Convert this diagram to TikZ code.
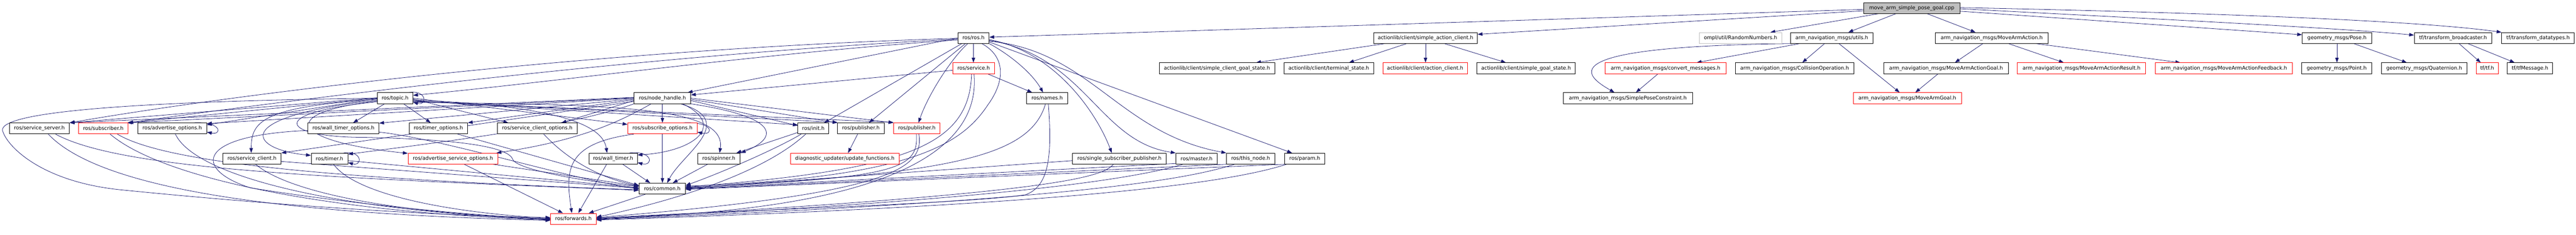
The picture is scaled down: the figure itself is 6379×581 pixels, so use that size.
\documentclass[tikz,border=0pt]{standalone}
\usepackage{fontspec}
\setmainfont{DejaVu Sans}
\usetikzlibrary{arrows.meta,calc}
\definecolor{edgec}{RGB}{25,25,112}
\definecolor{topfill}{RGB}{191,191,191}
\definecolor{lgray}{RGB}{191,191,191}
\pgfdeclarelayer{edgelayer}
\pgfsetlayers{edgelayer,main}
\begin{document}
\begin{tikzpicture}[x=1pt,y=-1pt,
  box/.style={draw=black, line width=1.1pt, rectangle, fill=white, minimum height=27pt, inner sep=0pt, font=\fontsize{12.6}{15}\selectfont, text=black},
  rbox/.style={box, draw=red},
  gbox/.style={box, draw=lgray},
  tbox/.style={box, fill=topfill},
  dep/.style={draw=edgec, line width=1pt, -{Triangle[length=12pt,width=8.5pt]}}]
\useasboundingbox (0,0) rectangle (6379,581);
% row 0
\node[tbox, minimum width=239pt] (top) at (4734,19.8) {move\_arm\_simple\_pose\_goal.cpp};
% row 1
\node[box, minimum width=77.5pt] (rosh) at (2410.5,94) {ros/ros.h};
\node[box, minimum width=257pt] (sac) at (3530,94) {actionlib/client/simple\_action\_client.h};
\node[gbox, minimum width=204pt] (ompl) at (4310,94) {ompl/util/RandomNumbers.h};
\node[box, minimum width=204pt] (utils) at (4536,94) {arm\_navigation\_msgs/utils.h};
\node[box, minimum width=280pt] (maa) at (4932,94) {arm\_navigation\_msgs/MoveArmAction.h};
\node[box, minimum width=172pt] (pose) at (5787,94) {geometry\_msgs/Pose.h};
\node[box, minimum width=192pt] (tfb) at (6074.5,94) {tf/transform\_broadcaster.h};
\node[box, minimum width=180pt] (tfd) at (6285,94) {tf/transform\_datatypes.h};
% row 2
\node[rbox, minimum width=104pt] (service) at (2411,169) {ros/service.h};
\node[box, minimum width=286pt] (scgs) at (3013.5,169) {actionlib/client/simple\_client\_goal\_state.h};
\node[box, minimum width=222pt] (term) at (3290.5,169) {actionlib/client/terminal\_state.h};
\node[rbox, minimum width=209pt] (ac) at (3529,169) {actionlib/client/action\_client.h};
\node[box, minimum width=244pt] (sgs) at (3779,169) {actionlib/client/simple\_goal\_state.h};
\node[rbox, minimum width=300pt] (conv) at (4124.5,169) {arm\_navigation\_msgs/convert\_messages.h};
\node[box, minimum width=294pt] (coll) at (4444,169) {arm\_navigation\_msgs/CollisionOperation.h};
\node[box, minimum width=308pt] (maag) at (4819,169) {arm\_navigation\_msgs/MoveArmActionGoal.h};
\node[rbox, minimum width=318pt] (maar) at (5154.5,169) {arm\_navigation\_msgs/MoveArmActionResult.h};
\node[rbox, minimum width=340pt] (maaf) at (5507,169) {arm\_navigation\_msgs/MoveArmActionFeedback.h};
\node[box, minimum width=174pt] (point) at (5786.4,169) {geometry\_msgs/Point.h};
\node[box, minimum width=212pt] (quat) at (6003,169) {geometry\_msgs/Quaternion.h};
\node[rbox, minimum width=55pt] (tftf) at (6159,169) {tf/tf.h};
\node[box, minimum width=112pt] (tfm) at (6265,169) {tf/tfMessage.h};
% row 3
\node[box, minimum width=88pt] (topic) at (978.4,243) {ros/topic.h};
\node[box, minimum width=140pt] (nh) at (1640.4,243) {ros/node\_handle.h};
\node[box, minimum width=101pt] (names) at (2593,243) {ros/names.h};
\node[box, minimum width=320pt] (spc) at (4031,243) {arm\_navigation\_msgs/SimplePoseConstraint.h};
\node[rbox, minimum width=268pt] (mag) at (4723,243) {arm\_navigation\_msgs/MoveArmGoal.h};
% row 4
\node[box, minimum width=149pt] (ss) at (97.5,318) {ros/service\_server.h};
\node[rbox, minimum width=123pt] (sub) at (255.7,318) {ros/subscriber.h};
\node[box, minimum width=171pt] (ao) at (426.4,318) {ros/advertise\_options.h};
\node[box, minimum width=176pt] (wto) at (850.4,318) {ros/wall\_timer\_options.h};
\node[box, minimum width=145pt] (tmo) at (1085.5,318) {ros/timer\_options.h};
\node[box, minimum width=197.5pt] (sco) at (1330.5,318) {ros/service\_client\_options.h};
\node[rbox, minimum width=172pt] (so) at (1640.4,318) {ros/subscribe\_options.h};
\node[box, minimum width=76pt] (init) at (2014,318) {ros/init.h};
\node[box, minimum width=115pt] (pubb) at (2131.8,318) {ros/publisher.h};
\node[rbox, minimum width=115pt] (pubr) at (2270.4,318) {ros/publisher.h};
% row 5
\node[box, minimum width=144pt] (sc) at (624,392.7) {ros/service\_client.h};
\node[box, minimum width=91pt] (timer) at (816,392.7) {ros/timer.h};
\node[rbox, minimum width=222.5pt] (aso) at (1121.6,392.7) {ros/advertise\_service\_options.h};
\node[box, minimum width=120pt] (wt) at (1518.2,392.7) {ros/wall\_timer.h};
\node[box, minimum width=104pt] (spinner) at (1780,392.7) {ros/spinner.h};
\node[rbox, minimum width=270pt] (diag) at (2092,392.7) {diagnostic\_updater/update\_functions.h};
\node[box, minimum width=232pt] (ssp) at (2772,392.7) {ros/single\_subscriber\_publisher.h};
\node[box, minimum width=102.5pt] (master) at (2963,392.7) {ros/master.h};
\node[box, minimum width=120pt] (thisnode) at (3097,392.7) {ros/this\_node.h};
\node[box, minimum width=100pt] (param) at (3231,392.7) {ros/param.h};
% row 6, 7
\node[box, minimum width=115pt] (common) at (1640,467) {ros/common.h};
\node[rbox, minimum width=113pt] (fwd) at (1420,541.6) {ros/forwards.h};

\begin{pgfonlayer}{edgelayer}
% ---- edges from the top file
\draw[dep] ([yshift=-3.5pt]top.west) -- ([yshift=2pt]rosh.east);
\draw[dep] ([yshift=-7pt]top.west) -- ([yshift=9pt]sac.east);
\draw[dep] ([xshift=-82pt]top.south) -- ([xshift=74pt]ompl.north);
\draw[dep] ([xshift=-39pt]top.south) -- ([xshift=41pt]utils.north);
\draw[dep] ([xshift=38pt]top.south) -- ([xshift=-40pt]maa.north);
\draw[dep] ([yshift=-8pt]top.east) -- ([yshift=8pt]pose.west);
\draw[dep] ([yshift=-2pt]top.east) .. controls (5400,50) and (5800,70) .. ([yshift=7pt]tfb.west);
\draw[dep] ([yshift=1pt]top.east) .. controls (5500,32) and (6000,52) .. (tfd.north west);
% ---- actionlib
\draw[dep] ([xshift=-101pt]sac.south) -- ([xshift=97pt]scgs.north);
\draw[dep] ([xshift=-47pt]sac.south) -- ([xshift=50pt]term.north);
\draw[dep] (sac.south) -- (sac.south |- ac.north);
\draw[dep] ([xshift=47pt]sac.south) -- ([xshift=-50pt]sgs.north);
% ---- arm_navigation_msgs
\draw[dep] (utils.south west) .. controls (3820,115) and (3930,190) .. ([xshift=-33pt]spc.north);
\draw[dep] ([xshift=-80pt]utils.south) -- ([xshift=77pt]conv.north);
\draw[dep] ([xshift=-18pt]utils.south) -- ([xshift=19pt]coll.north);
\draw[dep] ([xshift=18pt]utils.south) -- ([xshift=-19pt]mag.north);
\draw[dep] ([xshift=-19pt]conv.south) -- ([xshift=20pt]spc.north);
\draw[dep] ([xshift=-22pt]maa.south) -- ([xshift=22pt]maag.north);
\draw[dep] ([xshift=42pt]maa.south) -- ([xshift=-44pt]maar.north);
\draw[dep] ([xshift=110pt]maa.south) -- ([xshift=-108pt]maaf.north);
\draw[dep] ([xshift=-20pt]maag.south) -- ([xshift=20pt]mag.north);
% ---- geometry, tf
\draw[dep] (pose.south) -- (pose.south |- point.north);
\draw[dep] ([xshift=42pt]pose.south) -- ([xshift=-43pt]quat.north);
\draw[dep] ([xshift=15pt]tfb.south) -- ([xshift=-16pt]tftf.north);
\draw[dep] ([xshift=37pt]tfb.south) -- ([xshift=-38pt]tfm.north);
% ---- ros/ros.h
\draw[dep] (rosh.south) -- (rosh.south |- service.north);
\draw[dep] (rosh.south east) .. controls (2500,135) and (2555,180) .. ([xshift=-10pt]names.north);
\draw[dep] ([xshift=35pt]service.south) -- ([xshift=-37pt]names.north);
\draw[dep] ([yshift=-5pt]service.west) -- ([yshift=8pt]nh.east);
\draw[dep] (rosh.west) -- ([xshift=-8pt]nh.north east);
\draw[dep] ([yshift=-1pt]rosh.west) .. controls (1500,120) and (600,230) .. (ss.north east);
\draw[dep] ([yshift=-3pt]rosh.west) .. controls (1600,135) and (700,250) .. (sub.north east);
\draw[dep] ([yshift=-5pt]rosh.west) .. controls (1900,130) and (1400,200) .. ([yshift=7pt]topic.east);
\draw[dep] ([xshift=-29pt]rosh.south) -- ([xshift=27pt]init.north);
\draw[dep] ([xshift=-20pt]rosh.south) -- ([xshift=20pt]pubb.north);
\draw[dep] ([xshift=-14pt]rosh.south) .. controls (2360,140) and (2300,230) .. ([xshift=4pt]pubr.north);
\draw[dep] ([yshift=-4pt]rosh.east) .. controls (2620,130) and (2720,290) .. ([xshift=-19pt]ssp.north);
\draw[dep] ([yshift=-6pt]rosh.east) .. controls (2690,140) and (2720,350) .. (master.north west);
\draw[dep] ([yshift=-8pt]rosh.east) .. controls (2700,125) and (2770,330) .. (thisnode.north west);
\draw[dep] ([yshift=-10pt]rosh.east) -- ([xshift=19pt]param.north west);
\draw[dep] ([xshift=21pt]rosh.south) .. controls (2490,140) and (2490,200) .. (2446,260) .. controls (2380,360) and (2250,440) .. ([yshift=6pt]common.east);
% ---- service, names, publisher
\draw[dep] ([xshift=-5pt]service.south) .. controls (2400,360) and (2250,420) .. ([yshift=4pt]common.east);
\draw[dep] ([xshift=1pt]service.south) .. controls (2425,330) and (2300,520) .. ([yshift=2pt]fwd.east);
\draw[dep] ([xshift=-4pt]names.south) .. controls (2550,390) and (2350,430) .. ([yshift=2pt]common.east);
\draw[dep] ([xshift=3pt]names.south) .. controls (2605,380) and (2600,460) .. (2540,482) .. controls (2400,505) and (1700,525) .. ([yshift=1pt]fwd.east);
\draw[dep] ([xshift=-1pt]pubr.south) .. controls (2275,420) and (2220,440) .. ([yshift=3pt]common.east);
\draw[dep] ([xshift=5pt]pubr.south) .. controls (2290,420) and (2200,480) .. ([yshift=3pt]fwd.east);
\draw[dep] ([xshift=-8pt]pubb.south) -- ([xshift=8pt]diag.north);
% ---- ssp, master, this_node, param
\draw[dep] ([yshift=-5pt]ssp.west) -- ([yshift=1pt]common.east);
\draw[dep] ([xshift=-15pt]ssp.south) .. controls (2730,440) and (2600,480) .. (fwd.east);
\draw[dep] ([yshift=2pt]master.south west) -- (common.east);
\draw[dep] ([xshift=-34pt]master.south) .. controls (2850,430) and (2600,490) .. ([yshift=-1pt]fwd.east);
\draw[dep] (thisnode.south west) -- ([yshift=-1pt]common.east);
\draw[dep] ([xshift=-40pt]thisnode.south) .. controls (2950,440) and (2700,495) .. ([yshift=-2pt]fwd.east);
\draw[dep] (param.south west) -- ([yshift=-2pt]common.east);
\draw[dep] ([xshift=-45pt]param.south) .. controls (3050,450) and (2700,505) .. ([yshift=-3pt]fwd.east);
% ---- init
\draw[dep] ([yshift=-10pt]init.west) -- ([xshift=-9pt]spinner.north east);
\draw[dep] ([xshift=-30pt]init.south) .. controls (1920,370) and (1780,430) .. ([yshift=8pt]common.east);
\draw[dep] ([xshift=-19pt]init.south) .. controls (1900,420) and (1700,490) .. ([yshift=4pt]fwd.east);
% ---- node_handle
\draw[dep] (nh.south) -- (nh.south |- so.north);
\draw[dep] ([yshift=-6pt]nh.west) -- ([xshift=60pt]sco.north);
\draw[dep] ([xshift=-28pt]nh.south) .. controls (1520,310) and (1420,350) .. ([xshift=-4pt]aso.north east);
\draw[dep] ([xshift=50pt]nh.south) .. controls (1800,310) and (1720,375) .. ([yshift=9pt]wt.east);
\draw[dep] (nh.south east) .. controls (1930,290) and (1930,340) .. ([xshift=2pt]spinner.north east);
\draw[dep] ([xshift=45pt]nh.south) .. controls (1830,300) and (1690,380) .. ([xshift=12pt]common.north);
\draw[dep] ([yshift=-6pt]nh.east) -- ([yshift=7pt]init.west);
\draw[dep] ([yshift=-3pt]nh.east) -- (pubb.north west);
\draw[dep] (nh.east) -- (pubr.north west);
\draw[dep] ([yshift=2pt]nh.west) -- (ss.north east);
\draw[dep] ([yshift=1pt]nh.west) -- ([xshift=-3pt]sub.north east);
\draw[dep] (nh.west) -- ([yshift=-2pt]ao.north east);
\draw[dep] ([yshift=-2pt]nh.west) -- ([yshift=-1pt]wto.north east);
\draw[dep] ([yshift=-4pt]nh.west) -- (tmo.north east);
\draw[dep] ([yshift=-8pt]nh.west) -- (sc.north east);
\draw[dep] (nh.south west) .. controls (1420,310) and (1150,345) .. ([yshift=-3pt]timer.north east);
% ---- topic
\draw[dep] ([xshift=-26pt]topic.south) -- ([xshift=24pt]wto.north);
\draw[dep] ([xshift=21pt]topic.south) -- ([xshift=-19pt]tmo.north);
\draw[dep] ([yshift=-3pt]topic.west) .. controls (650,265) and (622,300) .. ([xshift=-2pt]sc.north);
\draw[dep] ([yshift=-5pt]topic.west) .. controls (560,290) and (620,370) .. ([yshift=8pt]timer.west);
\draw[dep] ([yshift=-7pt]topic.west) .. controls (680,280) and (720,350) .. ([yshift=-1pt]aso.north west);
\draw[dep] ([yshift=-9pt]topic.west) .. controls (650,280) and (700,340) .. (900,340) .. controls (1150,345) and (1260,365) .. (1270,395) .. controls (1280,420) and (1450,450) .. ([yshift=5pt]common.west);
\draw[dep] ([yshift=1pt]topic.west) -- (ss.north east);
\draw[dep] (topic.west) -- (sub.north east);
\draw[dep] ([yshift=-1pt]topic.west) -- ([yshift=-5pt]ao.north east);
\draw[dep] (topic.west) .. controls (400,250) and (4,272) .. (6,322) .. controls (15,360) and (100,450) .. (300,470) .. controls (700,510) and (1100,535) .. ([yshift=3pt]fwd.west);
\draw[dep] ([yshift=-2pt]topic.east) -- ([xshift=-72pt]sco.north);
\draw[dep] (topic.east) -- ([yshift=-4pt]so.north west);
\draw[dep] ([yshift=-4pt]topic.east) .. controls (1300,260) and (1490,290) .. ([xshift=-15pt]wt.north);
\draw[dep] ([yshift=-6pt]topic.east) -- ([yshift=9pt]init.west);
\draw[dep] ([yshift=-7pt]topic.east) -- ([yshift=1pt]pubb.north west);
\draw[dep] ([yshift=-8pt]topic.east) -- ([yshift=1pt]pubr.north west);
\draw[dep] ([yshift=-10pt]topic.east) .. controls (1500,260) and (1800,260) .. ([xshift=2pt]spinner.north);
% ---- self loops
\draw[dep] ([xshift=-33pt]ao.north east) .. controls (550,300) and (550,335) .. ([yshift=-9pt]ao.east);
\draw[dep] ([xshift=-11pt]topic.north east) .. controls (1058,222) and (1058,262) .. ([yshift=-10pt]topic.east);
\draw[dep] ([xshift=-11pt]timer.north east) .. controls (898,372) and (898,412) .. ([yshift=-10pt]timer.east);
\draw[dep] ([xshift=-20pt]wt.north east) .. controls (1618,372) and (1618,412) .. ([yshift=-10pt]wt.east);
\draw[dep] ([xshift=-35pt]so.north east) .. controls (1768,300) and (1768,336) .. ([yshift=-9pt]so.east);
% ---- left files to common / forwards
\draw[dep] ([xshift=22pt]ss.south) .. controls (250,470) and (700,530) .. ([yshift=-4pt]fwd.west);
\draw[dep] ([xshift=40pt]ss.south) .. controls (300,420) and (800,440) .. ([yshift=-4pt]common.west);
\draw[dep] ([xshift=17pt]sub.south) .. controls (400,440) and (800,525) .. ([yshift=-3pt]fwd.west);
\draw[dep] ([xshift=35pt]sub.south) .. controls (420,410) and (900,445) .. ([yshift=-3pt]common.west);
\draw[dep] ([xshift=8pt]ao.south) .. controls (480,430) and (800,520) .. ([yshift=-2pt]fwd.west);
\draw[dep] ([yshift=-9pt]wto.east) .. controls (1100,345) and (1400,440) .. ([yshift=-1pt]common.west);
\draw[dep] ([yshift=-5pt]wto.west) .. controls (480,335) and (480,420) .. (620,465) .. controls (900,510) and (1200,535) .. ([yshift=-1pt]fwd.west);
\draw[dep] ([xshift=48pt]tmo.south) -- ([yshift=8pt]common.west);
\draw[dep] ([xshift=9pt]sc.south) .. controls (720,480) and (1000,530) .. (fwd.west);
\draw[dep] ([yshift=-7pt]sc.east) -- ([yshift=1pt]common.west);
\draw[dep] ([xshift=10pt]timer.south) .. controls (880,480) and (1100,525) .. ([yshift=1pt]fwd.west);
\draw[dep] ([yshift=-5pt]timer.east) -- ([yshift=2pt]common.west);
\draw[dep] ([xshift=28pt]aso.south) -- ([xshift=-26pt]fwd.north);
\draw[dep] ([xshift=100pt]aso.south) -- ([yshift=6pt]common.west);
\draw[dep] ([xshift=16pt]sco.south) .. controls (1400,390) and (1480,440) .. ([yshift=7pt]common.west);
\draw[dep] ([xshift=-16pt]wt.south) -- ([xshift=12pt]fwd.north);
\draw[dep] ([xshift=24pt]wt.south) -- ([xshift=-30pt]common.north);
\draw[dep] (so.south) -- (so.south |- common.north);
\draw[dep] ([xshift=-71pt]so.south) .. controls (1400,355) and (1400,420) .. ([xshift=-4pt]fwd.north);
\draw[dep] ([xshift=-28pt]spinner.south) -- ([xshift=26pt]common.north);
\draw[dep] ([xshift=-42pt]common.south) -- ([xshift=38pt]fwd.north);
\end{pgfonlayer}
\end{tikzpicture}
\end{document}
